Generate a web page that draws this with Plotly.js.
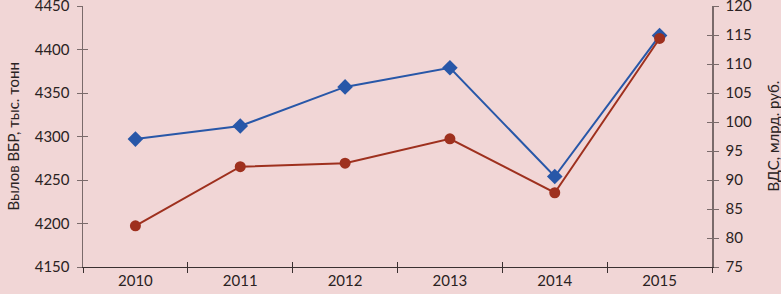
<!DOCTYPE html>
<html>
<head>
<meta charset="utf-8">
<script src="https://cdn.plot.ly/plotly-3.0.1.min.js"></script>
<style>html,body{margin:0;padding:0;background:#f1d6d6;}#chart{width:781px;height:294px;}</style>
</head>
<body>
<div id="chart"></div>
<script>
var years = ['2010', '2011', '2012', '2013', '2014', '2015'];
var catchValues = [4297, 4312, 4357, 4379, 4254, 4416];   // Вылов ВБР, тыс. тонн
var gvaValues = [82.1, 92.3, 92.9, 97.1, 87.8, 114.4];     // ВДС, млрд. руб.
var leftTicks = [4150, 4200, 4250, 4300, 4350, 4400, 4450];
var rightTicks = [75, 80, 85, 90, 95, 100, 105, 110, 115, 120];
var leftTitle = 'Вылов ВБР, тыс. тонн';
var rightTitle = 'ВДС, млрд. руб.';

var blue = '#2857a8', red = '#9e301e';
var fontFam = 'Lato, "Open Sans", sans-serif';
var axisGray = '#7a6a6a', axisDark = '#3a3030';

var traces = [
  {x: years, y: catchValues, type: 'scatter', mode: 'lines+markers', yaxis: 'y',
   line: {color: blue, width: 2}, marker: {symbol: 'diamond', size: 12, color: blue},
   name: 'Вылов ВБР'},
  {x: years, y: gvaValues, type: 'scatter', mode: 'lines+markers', yaxis: 'y2',
   line: {color: red, width: 2}, marker: {symbol: 'circle', size: 11, color: red},
   name: 'ВДС'},
  {x: years, y: years.map(function(){return null;}), type: 'scatter', mode: 'markers',
   xaxis: 'x2', yaxis: 'y3', hoverinfo: 'skip'},
  {x: years, y: years.map(function(){return null;}), type: 'scatter', mode: 'markers',
   xaxis: 'x', yaxis: 'y4', hoverinfo: 'skip'}
];

var layout = {
  width: 781, height: 294,
  margin: {l: 83, r: 69, t: 6, b: 27},
  paper_bgcolor: '#f1d6d6', plot_bgcolor: '#f1d6d6',
  showlegend: false,
  font: {family: fontFam, size: 15, color: '#2a2222'},
  xaxis: {type: 'category', categoryarray: years, range: [-0.5, 5.5],
    tickson: 'boundaries', ticks: 'outside', ticklen: 5, tickcolor: axisDark,
    showline: true, linecolor: axisDark, linewidth: 1, showgrid: false, zeroline: false,
    fixedrange: true, automargin: false},
  xaxis2: {type: 'category', categoryarray: years, range: [-0.5, 5.5], overlaying: 'x',
    anchor: 'y', side: 'bottom', tickson: 'boundaries', ticks: 'inside', ticklen: 5,
    tickcolor: axisDark, showticklabels: false, showline: false, showgrid: false,
    zeroline: false, automargin: false},
  yaxis: {range: [4150, 4450], tickvals: leftTicks, ticks: 'outside', ticklen: 5,
    tickcolor: axisGray, showline: true, linecolor: axisGray, linewidth: 1.5,
    showgrid: false, zeroline: false, automargin: false, ticklabelstandoff: 4,
    ticklabeloverflow: 'allow'},
  yaxis2: {range: [75, 120], tickvals: rightTicks, overlaying: 'y', side: 'right',
    ticks: 'outside', ticklen: 5, tickcolor: axisGray, showline: true,
    linecolor: axisGray, linewidth: 1.5, showgrid: false, zeroline: false,
    automargin: false, ticklabelstandoff: 4, ticklabeloverflow: 'allow'},
  yaxis3: {range: [4150, 4450], tickvals: leftTicks, overlaying: 'y', side: 'left',
    anchor: 'x', ticks: 'inside', ticklen: 5, tickcolor: axisGray,
    showticklabels: false, showline: false, showgrid: false, zeroline: false,
    automargin: false},
  yaxis4: {range: [75, 120], tickvals: rightTicks, overlaying: 'y', side: 'right',
    anchor: 'x', ticks: 'inside', ticklen: 5, tickcolor: axisGray,
    showticklabels: false, showline: false, showgrid: false, zeroline: false,
    automargin: false},
  annotations: [
    {text: leftTitle, xref: 'paper', yref: 'paper', x: 0, y: 0.5, xshift: -71,
     xanchor: 'center', yanchor: 'middle', textangle: -90, showarrow: false,
     font: {size: 15}},
    {text: rightTitle, xref: 'paper', yref: 'paper', x: 1, y: 0.5, xshift: 60,
     xanchor: 'center', yanchor: 'middle', textangle: -90, showarrow: false,
     font: {size: 15}}
  ]
};

Plotly.newPlot('chart', traces, layout, {displayModeBar: false, staticPlot: true});
</script>
</body>
</html>
